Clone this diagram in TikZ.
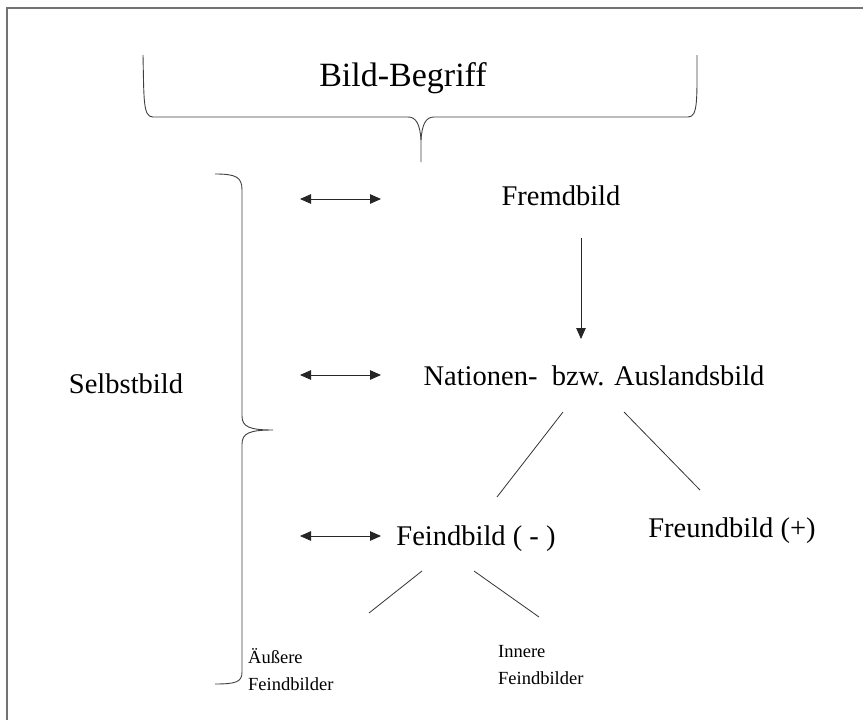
\documentclass[tikz,border=0pt]{standalone}
\usepackage{fontspec}
\setmainfont{Liberation Serif}
\usetikzlibrary{arrows.meta}
\begin{document}
\begin{tikzpicture}[x=1pt,y=-1pt,
  lbl/.style={inner sep=0pt,anchor=base,font=\fontsize{28.5}{34}\selectfont},
  small/.style={inner sep=0pt,anchor=base west,align=left,font=\fontsize{18.5}{26.5}\selectfont},
  brace/.style={draw=black!75,line width=0.9pt},
  link/.style={draw=black!80,line width=0.8pt},
  twoway/.style={draw=black!85,line width=0.9pt,{Triangle[length=11pt,width=9.5pt]}-{Triangle[length=11pt,width=9.5pt]}},
  oneway/.style={draw=black!85,line width=0.9pt,-{Triangle[length=11pt,width=9.5pt]}}]
\useasboundingbox (0,0) rectangle (863,720);
% frame (top and left edges)
\draw[black!55,line width=1.6pt] (7,720) -- (7,8) -- (863,8);

% title and its brace
\node[inner sep=0pt,anchor=base,font=\fontsize{34}{40}\selectfont] (title) at (403,86) {Bild-Begriff};
\draw[brace] (143,55) .. controls (144,100) and (143,117) .. (153,117) -- (408,117)
  .. controls (416,117) and (420,124) .. (421,140) -- (421,162);
\draw[brace] (421,140) .. controls (422,124) and (426,117) .. (434,117) -- (688,117)
  .. controls (698,117) and (697,100) .. (697,55);

% left brace
\draw[brace] (215,174) .. controls (236,174) and (242,177) .. (242,190) -- (242,416)
  .. controls (242,427) and (250,430) .. (273,430)
  .. controls (250,430) and (242,433) .. (242,444) -- (242,672)
  .. controls (242,682) and (236,684) .. (215,684);
\node[lbl] (selbst) at (126,393) {Selbstbild};

% main nodes
\node[lbl] (fremd) at (561,205) {Fremdbild};
\node[lbl] (nation) at (594,385) {Nationen-\ \ bzw. Auslandsbild};
\node[lbl] (feind) at (476,545) {Feindbild ( - )};
\node[lbl] (freund) at (732,537) {Freundbild (+)};
\node[small] (aussen) at (248,690) {Äußere\\Feindbilder};
\node[small] (innen) at (498,684) {Innere\\Feindbilder};

% connector end points
\coordinate (a1l) at (300,199); \coordinate (a1r) at (381,199);
\coordinate (a2l) at (300,375); \coordinate (a2r) at (381,375);
\coordinate (a3l) at (300,536); \coordinate (a3r) at (381,536);
\coordinate (fd) at (581,238);  \coordinate (nu) at (581,339);
\coordinate (n1) at (563,412);  \coordinate (f1) at (497,497);
\coordinate (n2) at (624,412);  \coordinate (r1) at (700,490);
\coordinate (e1) at (422,571);  \coordinate (x1) at (369,613);
\coordinate (e2) at (474,571);  \coordinate (i1) at (539,617);

\draw[twoway] (a1l) -- (a1r);
\draw[twoway] (a2l) -- (a2r);
\draw[twoway] (a3l) -- (a3r);
\draw[oneway] (fd) -- (nu);
\draw[link] (n1) -- (f1);
\draw[link] (n2) -- (r1);
\draw[link] (e1) -- (x1);
\draw[link] (e2) -- (i1);
\end{tikzpicture}
\end{document}
